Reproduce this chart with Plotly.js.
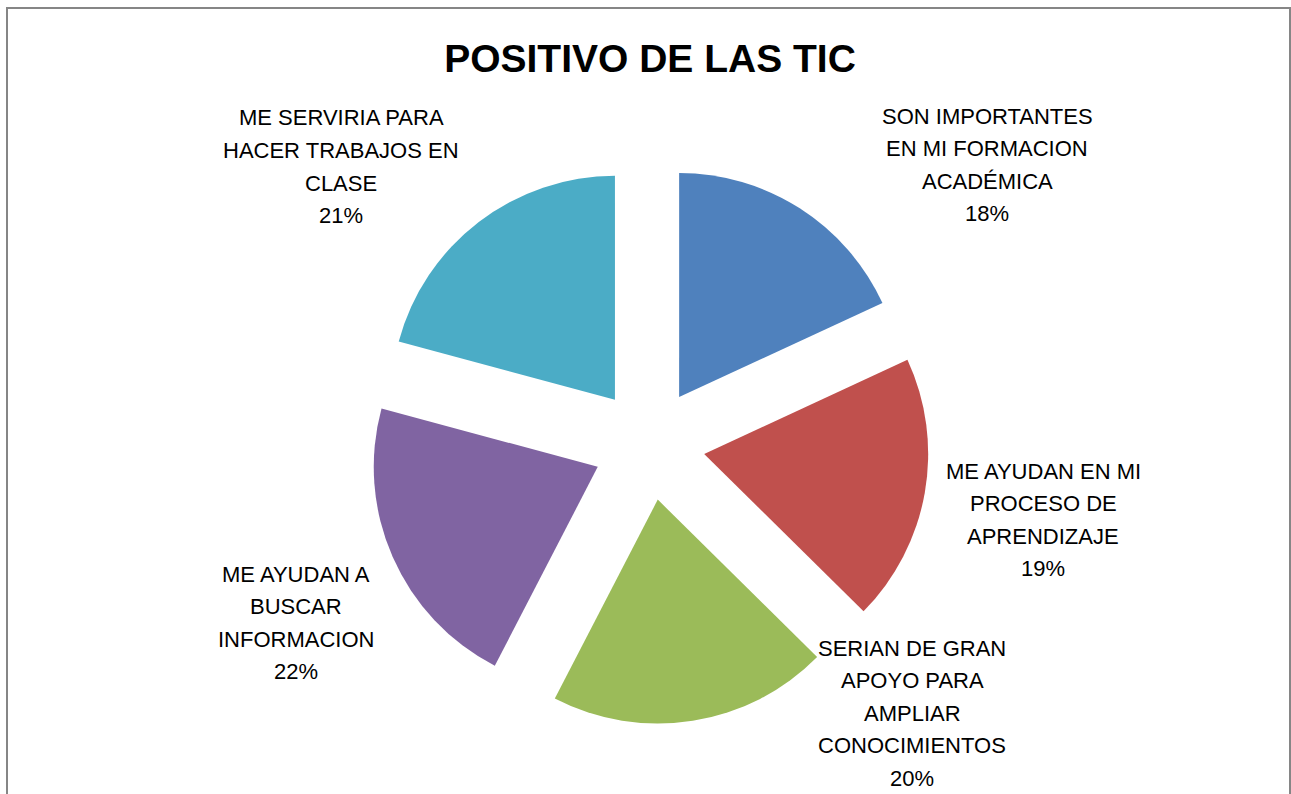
<!DOCTYPE html>
<html>
<head>
<meta charset="utf-8">
<script src="https://cdn.plot.ly/plotly-3.0.1.min.js"></script>
<style>html,body{margin:0;padding:0;background:#fff;}#chart{width:1291px;height:794px;}</style>
</head>
<body>
<div id="chart"></div>
<script>
// ---- data ----
const categories = [
  "SON IMPORTANTES<br>EN MI FORMACION<br>ACADÉMICA",
  "ME AYUDAN EN MI<br>PROCESO DE<br>APRENDIZAJE",
  "SERIAN DE GRAN<br>APOYO PARA<br>AMPLIAR<br>CONOCIMIENTOS",
  "ME AYUDAN A<br>BUSCAR<br>INFORMACION",
  "ME SERVIRIA PARA<br>HACER TRABAJOS EN<br>CLASE"
];
const values = [18.1, 19.3, 20.2, 21.6, 20.8];
const colors = ["#4F81BD", "#C0504D", "#9BBB59", "#8064A2", "#4BACC6"];
const chartTitle = "POSITIVO DE LAS TIC";

// ---- layout helpers ----
const W = 1291, H = 794;
const px = x => x / W;
const py = y => (H - y) / H;

// label anchor (centre x, first line centre y) in pixels
const labelAnchors = [[987, 116], [1043, 471], [912, 648], [296, 574], [341, 118]];
const lineGap = 32.5;

const total = values.reduce((a, b) => a + b, 0);
const annotations = [];
categories.forEach((c, i) => {
  const lines = c.split("<br>");
  lines.push(Math.round(values[i] / total * 100) + "%");
  lines.forEach((ln, j) => {
    annotations.push({
      xref: "paper", yref: "paper",
      x: px(labelAnchors[i][0]), y: py(labelAnchors[i][1] + j * lineGap),
      xanchor: "center", yanchor: "middle",
      text: ln, showarrow: false,
      font: {family: "Liberation Sans, Arial, sans-serif", size: 22, color: "#000"}
    });
  });
});

const cx = 649, cy = 444.3, half = 280;
const trace = {
  type: "pie",
  labels: categories.map(c => c.replace(/<br>/g, " ")),
  values: values,
  sort: false,
  direction: "clockwise",
  rotation: 0,
  pull: values.map(() => 0.25),
  marker: {colors: colors, line: {width: 0}},
  textinfo: "none",
  hoverinfo: "label+percent",
  showlegend: false,
  domain: {x: [px(cx - half), px(cx + half)], y: [py(cy + half), py(cy - half)]}
};

const layout = {
  width: W, height: H,
  margin: {l: 0, r: 0, t: 0, b: 0},
  paper_bgcolor: "#fff",
  showlegend: false,
  title: {
    text: "<b>" + chartTitle + "</b>",
    font: {family: "Liberation Sans, Arial, sans-serif", size: 39, color: "#000"},
    x: px(650), xanchor: "center", y: py(58), yanchor: "middle", xref: "paper", yref: "paper"
  },
  annotations: annotations,
  shapes: [{
    type: "rect", xref: "paper", yref: "paper",
    x0: px(7), x1: px(1290), y0: -0.05, y1: py(8),
    line: {color: "#868686", width: 2}, fillcolor: "rgba(0,0,0,0)"
  }]
};

Plotly.newPlot("chart", [trace], layout, {displayModeBar: false, staticPlot: true});
</script>
</body>
</html>
